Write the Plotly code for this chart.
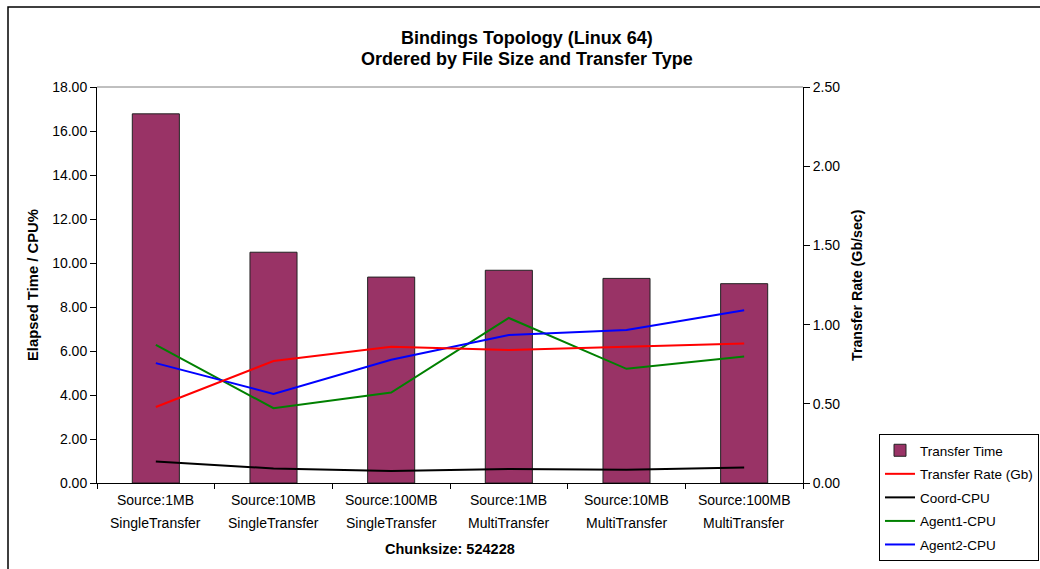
import plotly.graph_objects as go

# Test cases: file size and transfer mode
sources = ["Source:1MB", "Source:10MB", "Source:100MB", "Source:1MB", "Source:10MB", "Source:100MB"]
modes = ["SingleTransfer", "SingleTransfer", "SingleTransfer", "MultiTransfer", "MultiTransfer", "MultiTransfer"]
categories = [f"{s} {m}" for s, m in zip(sources, modes)]

# Measurements
transfer_time = [16.78, 10.49, 9.36, 9.67, 9.30, 9.06]      # seconds (left axis)
transfer_rate = [0.48, 0.77, 0.86, 0.84, 0.86, 0.88]        # Gb/sec (right axis)
coord_cpu = [0.98, 0.66, 0.54, 0.64, 0.60, 0.70]            # % (left axis)
agent1_cpu = [6.28, 3.40, 4.11, 7.50, 5.19, 5.75]
agent2_cpu = [5.45, 4.05, 5.60, 6.73, 6.95, 7.85]

FONT = "Liberation Sans, Arial, sans-serif"
W, H = 1040, 569
L, R, T, B = 97, 803, 87, 483


def px_x(px):
    return (px - L) / (R - L)


def px_y(py):
    return (B - py) / (B - T)


fig = go.Figure()

fig.add_trace(go.Bar(
    x=categories, y=transfer_time, name="Transfer Time",
    marker=dict(color="#993366", line=dict(color="#222222", width=1)),
    width=0.4, legendgroup="a",
))
fig.add_trace(go.Scatter(
    x=categories, y=transfer_rate, name="Transfer Rate (Gb)", yaxis="y2",
    mode="lines", line=dict(color="#FF0000", width=2), legendgroup="b",
))
fig.add_trace(go.Scatter(
    x=categories, y=coord_cpu, name="Coord-CPU",
    mode="lines", line=dict(color="#000000", width=2), legendgroup="c",
))
fig.add_trace(go.Scatter(
    x=categories, y=agent1_cpu, name="Agent1-CPU",
    mode="lines", line=dict(color="#008000", width=2), legendgroup="d",
))
fig.add_trace(go.Scatter(
    x=categories, y=agent2_cpu, name="Agent2-CPU",
    mode="lines", line=dict(color="#0000FF", width=2), legendgroup="e",
))


def label(text, x, y, size, xref="paper", angle=0):
    return dict(text=text, x=x, y=y, xref=xref, yref="paper", showarrow=False,
                xanchor="center", yanchor="middle", textangle=angle,
                font=dict(size=size, color="black"))


annotations = [
    label("<b>Bindings Topology (Linux 64)</b>", px_x(527), px_y(38), 18),
    label("<b>Ordered by File Size and Transfer Type</b>", px_x(527), px_y(59), 18),
    label("<b>Elapsed Time / CPU%</b>", px_x(33), 0.5, 14.8, angle=-90),
    label("<b>Transfer Rate (Gb/sec)</b>", px_x(857), 0.5, 14.2, angle=-90),
    label("<b>Chunksize: 524228</b>", 0.5, px_y(549), 14.5),
]
for cat, src, mode in zip(categories, sources, modes):
    annotations.append(label(src, cat, px_y(500), 14, xref="x"))
    annotations.append(label(mode, cat, px_y(523), 14, xref="x"))

shapes = [
    # plot area top edge
    dict(type="line", xref="paper", yref="paper", x0=0, x1=1, y0=1, y1=1,
         line=dict(color="#808080", width=1)),
    # outer chart frame
    dict(type="rect", xref="paper", yref="paper", layer="below",
         x0=px_x(8), x1=px_x(1060), y0=px_y(590), y1=px_y(7),
         line=dict(color="black", width=1.5)),
]

fig.update_layout(
    width=W, height=H,
    margin=dict(l=L, r=W - R, t=T, b=H - B, autoexpand=False),
    paper_bgcolor="white", plot_bgcolor="white",
    font=dict(family=FONT, size=14, color="black"),
    showlegend=True,
    legend=dict(
        x=px_x(879), y=px_y(434), xanchor="left", yanchor="top",
        bordercolor="black", borderwidth=1, bgcolor="white",
        font=dict(size=13.5, family=FONT, color="black"),
        tracegroupgap=3, traceorder="grouped",
    ),
    bargap=0.6,
    xaxis=dict(
        type="category", showline=True, linecolor="black", linewidth=1,
        ticks="outside", tickson="boundaries", ticklen=5, tickcolor="black",
        showticklabels=False, showgrid=False, zeroline=False,
    ),
    yaxis=dict(
        range=[0, 18], dtick=2, tickformat=".2f", showline=True, linecolor="black",
        linewidth=1, ticks="outside", ticklen=6, tickcolor="black",
        showgrid=False, zeroline=False, tickfont=dict(size=14),
    ),
    yaxis2=dict(
        range=[0, 2.5], dtick=0.5, tickformat=".2f", overlaying="y", side="right",
        showline=True, linecolor="black", linewidth=1, ticks="outside", ticklen=6,
        tickcolor="black", showgrid=False, zeroline=False, tickfont=dict(size=14),
    ),
    annotations=annotations,
    shapes=shapes,
)

fig.write_html("out.html")
